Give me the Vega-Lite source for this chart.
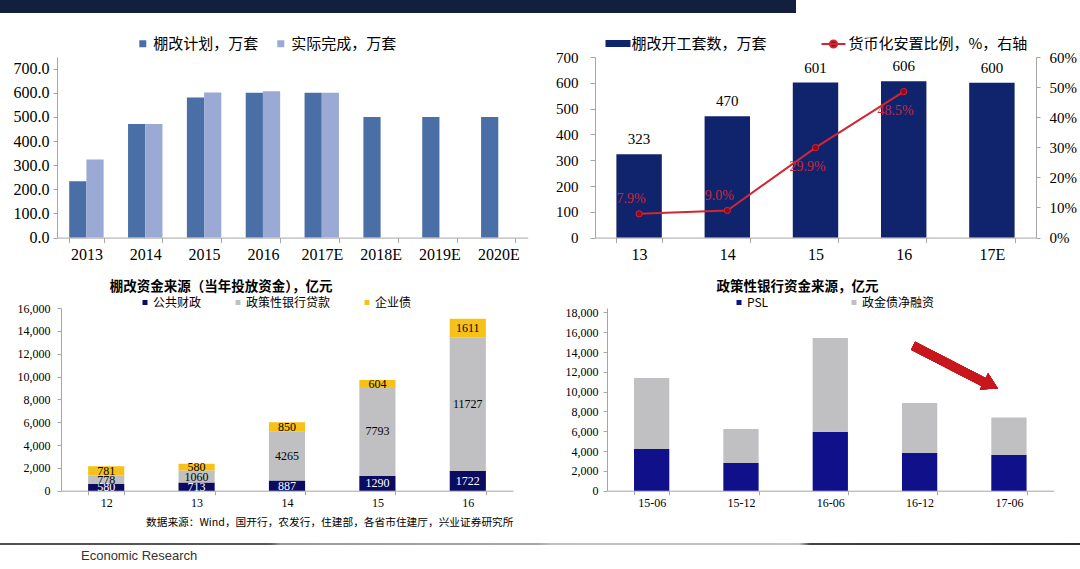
{
  "$schema": "https://vega.github.io/schema/vega-lite/v6.json",
  "padding": 0,
  "background": "white",
  "bounds": "flush",
  "spacing": 0,
  "resolve": {"scale": {"color": "independent", "fill": "independent", "stroke": "independent", "x": "independent", "y": "independent"}, "legend": {"color": "independent", "fill": "independent", "stroke": "independent"}},
  "vconcat": [
    {
      "width": 796, "height": 13,
      "view": {"fill": "#13203d", "stroke": null},
      "data": {"values": [{}]},
      "mark": {"type": "rect", "color": "#13203d"},
      "encoding": {}
    },
    {"width": 1, "height": 43.7, "data": {"values": []}, "mark": "point"},
    {
      "hconcat": [
        {"width": 56.7, "height": 180.6, "data": {"values": []}, "mark": "point"},
        {
          "width": 470.7, "height": 180.6,
          "data": {"values": [
            {"yr": "2013", "g": "棚改计划，万套", "v": 233},
            {"yr": "2013", "g": "实际完成，万套", "v": 323},
            {"yr": "2014", "g": "棚改计划，万套", "v": 470},
            {"yr": "2014", "g": "实际完成，万套", "v": 470},
            {"yr": "2015", "g": "棚改计划，万套", "v": 580},
            {"yr": "2015", "g": "实际完成，万套", "v": 601},
            {"yr": "2016", "g": "棚改计划，万套", "v": 600},
            {"yr": "2016", "g": "实际完成，万套", "v": 606},
            {"yr": "2017E", "g": "棚改计划，万套", "v": 600},
            {"yr": "2017E", "g": "实际完成，万套", "v": 600},
            {"yr": "2018E", "g": "棚改计划，万套", "v": 500},
            {"yr": "2019E", "g": "棚改计划，万套", "v": 500},
            {"yr": "2020E", "g": "棚改计划，万套", "v": 500}
          ]},
          "mark": {"type": "bar"},
          "encoding": {
            "x": {"field": "yr", "type": "nominal", "scale": {"paddingInner": 0.415, "paddingOuter": 0.2075},
                  "axis": {"title": null, "labelAngle": 0, "labelFontSize": 16, "labelPadding": 4, "tickBand": "extent", "tickSize": 5}},
            "xOffset": {"field": "g", "type": "nominal", "scale": {"domain": ["棚改计划，万套", "实际完成，万套"]}},
            "y": {"field": "v", "type": "quantitative", "scale": {"domain": [0, 748], "nice": false},
                  "axis": {"title": null, "values": [0, 100, 200, 300, 400, 500, 600, 700], "format": ".1f", "labelFontSize": 16, "labelPadding": 4, "tickSize": 4, "labelOverlap": false}},
            "color": {"field": "g", "type": "nominal", "scale": {"domain": ["棚改计划，万套", "实际完成，万套"], "range": ["#4a6fa6", "#9aaad4"]},
                      "legend": {"title": null, "orient": "none", "legendX": 78.3, "legendY": -21, "direction": "horizontal", "symbolType": "square", "symbolSize": 49, "symbolStrokeWidth": 0, "labelFontSize": 15, "labelOffset": 3, "columnPadding": 14, "labelLimit": 400}}
          }
        },
        {"width": 66.3, "height": 180.6, "data": {"values": []}, "mark": "point"},
        {
          "width": 441, "height": 180.6,
          "data": {"values": [
            {"c": "13", "n": 323, "r": 0.079},
            {"c": "14", "n": 470, "r": 0.09},
            {"c": "15", "n": 601, "r": 0.299},
            {"c": "16", "n": 606, "r": 0.485},
            {"c": "17E", "n": 600, "r": null}
          ]},
          "encoding": {
            "x": {"field": "c", "type": "nominal", "scale": {"paddingInner": 0.485, "paddingOuter": 0.2425},
                  "axis": {"title": null, "labelAngle": 0, "labelFontSize": 16, "labelPadding": 4, "tickBand": "extent", "tickSize": 5}}
          },
          "layer": [
            {
              "encoding": {
                "y": {"field": "n", "type": "quantitative", "scale": {"domain": [0, 700], "nice": false},
                      "axis": {"title": null, "values": [0, 100, 200, 300, 400, 500, 600, 700], "format": "d", "labelFontSize": 15, "labelPadding": 12, "tickSize": 5, "labelOverlap": false}}
              },
              "layer": [
                {
                  "mark": {"type": "bar"},
                  "encoding": {
                    "fill": {"datum": "棚改开工套数，万套", "type": "nominal", "scale": {"range": ["#10236d"]},
                             "legend": {"title": null, "orient": "none", "legendX": 10.5, "legendY": -26, "direction": "horizontal", "symbolType": "M-1,-0.28H1V0.28H-1Z", "symbolSize": 625, "symbolStrokeWidth": 0, "labelFontSize": 15, "labelOffset": 1, "labelLimit": 400}}
                  }
                },
                {
                  "mark": {"type": "text", "dy": -15, "font": "Liberation Serif", "fontSize": 15, "color": "#000000", "baseline": "middle"},
                  "encoding": {
                    "text": {"field": "n", "type": "quantitative"}
                  }
                }
              ]
            },
            {
              "encoding": {
                "y": {"field": "r", "type": "quantitative", "scale": {"domain": [0, 0.6], "nice": false},
                      "axis": {"title": null, "orient": "right", "values": [0, 0.1, 0.2, 0.3, 0.4, 0.5, 0.6], "format": ".0%", "labelFontSize": 15, "labelPadding": 9, "tickSize": 4, "labelOverlap": false}}
              },
              "layer": [
                {
                  "mark": {"type": "line", "strokeWidth": 2},
                  "encoding": {
                    "stroke": {"datum": "货币化安置比例，%，右轴", "type": "nominal", "scale": {"range": ["#d22632"]},
                               "legend": {"title": null, "orient": "none", "legendX": 225.5, "legendY": -26, "direction": "horizontal", "symbolType": "M-1,0H1M-0.3,0A0.3,0.3,0,1,1,0.3,0A0.3,0.3,0,1,1,-0.3,0", "symbolSize": 576, "symbolStrokeWidth": 2, "labelFontSize": 15, "labelOffset": 2, "labelLimit": 400,
                                          "encode": {"symbols": {"update": {"fill": {"value": "#8c0c1c"}}}}}}
                  }
                },
                {
                  "mark": {"type": "point", "filled": true, "size": 40, "color": "#8c0c1c", "stroke": "#d22632", "strokeWidth": 1, "opacity": 1}
                },
                {
                  "transform": [{"filter": "datum.c === '13' || datum.c === '14'"}],
                  "mark": {"type": "text", "dx": -8, "dy": -15, "font": "Liberation Serif", "fontSize": 14, "color": "#c8283a", "baseline": "middle"},
                  "encoding": {
                    "text": {"field": "r", "type": "quantitative", "format": ".1%"}
                  }
                },
                {
                  "transform": [{"filter": "datum.c === '15' || datum.c === '16'"}],
                  "mark": {"type": "text", "dx": -8, "dy": 19, "font": "Liberation Serif", "fontSize": 14, "color": "#c8283a", "baseline": "middle"},
                  "encoding": {
                    "text": {"field": "r", "type": "quantitative", "format": ".1%"}
                  }
                }
              ]
            }
          ],
          "resolve": {"scale": {"y": "independent"}}
        }
      ],
      "spacing": 0,
      "bounds": "flush",
      "resolve": {"scale": {"color": "independent", "fill": "independent", "stroke": "independent", "x": "independent", "y": "independent"}, "legend": {"color": "independent", "fill": "independent", "stroke": "independent"}}
    },
    {"width": 1, "height": 250.6, "data": {"values": []}, "mark": "point"},
    {
      "hconcat": [
        {"width": 60.7, "height": 182.7, "data": {"values": []}, "mark": "point"},
        {
          "width": 452, "height": 182.7,
          "title": {"text": "棚改资金来源（当年投放资金），亿元", "anchor": "start", "frame": "group", "dx": 48.8, "offset": 3, "fontSize": 13.5, "fontWeight": "bold", "font": "Noto Sans CJK SC", "color": "#000000"},
          "data": {"values": [
            {"y": "12", "s": "公共财政", "v": 580, "o": 1},
            {"y": "12", "s": "政策性银行贷款", "v": 778, "o": 2},
            {"y": "12", "s": "企业债", "v": 781, "o": 3},
            {"y": "13", "s": "公共财政", "v": 713, "o": 1},
            {"y": "13", "s": "政策性银行贷款", "v": 1060, "o": 2},
            {"y": "13", "s": "企业债", "v": 580, "o": 3},
            {"y": "14", "s": "公共财政", "v": 887, "o": 1},
            {"y": "14", "s": "政策性银行贷款", "v": 4265, "o": 2},
            {"y": "14", "s": "企业债", "v": 850, "o": 3},
            {"y": "15", "s": "公共财政", "v": 1290, "o": 1},
            {"y": "15", "s": "政策性银行贷款", "v": 7793, "o": 2},
            {"y": "15", "s": "企业债", "v": 604, "o": 3},
            {"y": "16", "s": "公共财政", "v": 1722, "o": 1},
            {"y": "16", "s": "政策性银行贷款", "v": 11727, "o": 2},
            {"y": "16", "s": "企业债", "v": 1611, "o": 3}
          ]},
          "encoding": {
            "x": {"field": "y", "type": "nominal", "scale": {"paddingInner": 0.6, "paddingOuter": 0.3},
                  "axis": {"title": "数据来源：Wind，国开行，农发行，住建部，各省市住建厅，兴业证券研究所", "titleFont": "Noto Sans CJK SC", "titleFontSize": 10.7, "titleFontWeight": "normal", "titleColor": "#000000", "titleAnchor": "end", "titlePadding": 9,
                           "labelAngle": 0, "labelFontSize": 12, "labelPadding": 3, "tickBand": "extent", "tickSize": 4}},
            "order": {"field": "o", "type": "quantitative"}
          },
          "layer": [
            {
              "mark": {"type": "bar"},
              "encoding": {
                "y": {"field": "v", "type": "quantitative", "stack": "zero", "scale": {"domain": [0, 16000], "nice": false},
                      "axis": {"title": null, "values": [0, 2000, 4000, 6000, 8000, 10000, 12000, 14000, 16000], "format": ",d", "labelFontSize": 12, "labelPadding": 7, "tickSize": 4, "labelOverlap": false}},
                "color": {"field": "s", "type": "nominal", "scale": {"domain": ["公共财政", "政策性银行贷款", "企业债"], "range": ["#0b0b62", "#c0c0c2", "#f6c21a"]},
                          "legend": {"title": null, "orient": "none", "legendX": 78, "legendY": -11.5, "direction": "horizontal", "symbolType": "square", "symbolSize": 25, "symbolStrokeWidth": 0, "labelFontSize": 12, "labelOffset": 2, "columnPadding": 30, "labelLimit": 400}}
              }
            },
            {
              "mark": {"type": "text", "font": "Liberation Serif", "fontSize": 12, "baseline": "middle"},
              "encoding": {
                "y": {"field": "v", "type": "quantitative", "stack": "zero", "bandPosition": 0.5, "scale": {"domain": [0, 16000], "nice": false},
                      "axis": {"title": null, "values": [0, 2000, 4000, 6000, 8000, 10000, 12000, 14000, 16000], "format": ",d", "labelFontSize": 12, "labelPadding": 7, "tickSize": 4, "labelOverlap": false}},
                "detail": {"field": "s", "type": "nominal"},
                "text": {"field": "v", "type": "quantitative"},
                "color": {"condition": {"test": "datum.s === '公共财政'", "value": "#ffffff"}, "value": "#000000"}
              }
            }
          ]
        },
        {"width": 93.3, "height": 182.7, "data": {"values": []}, "mark": "point"},
        {
          "width": 446.6, "height": 182.7,
          "title": {"text": "政策性银行资金来源，亿元", "anchor": "start", "frame": "group", "dx": 109.6, "offset": 3, "fontSize": 13.5, "fontWeight": "bold", "font": "Noto Sans CJK SC", "color": "#000000"},
          "data": {"values": [
            {"p": "15-06", "k": "PSL", "v": 4210, "o": 1},
            {"p": "15-06", "k": "政金债净融资", "v": 7170, "o": 2},
            {"p": "15-12", "k": "PSL", "v": 2800, "o": 1},
            {"p": "15-12", "k": "政金债净融资", "v": 3430, "o": 2},
            {"p": "16-06", "k": "PSL", "v": 5960, "o": 1},
            {"p": "16-06", "k": "政金债净融资", "v": 9460, "o": 2},
            {"p": "16-12", "k": "PSL", "v": 3840, "o": 1},
            {"p": "16-12", "k": "政金债净融资", "v": 5010, "o": 2},
            {"p": "17-06", "k": "PSL", "v": 3600, "o": 1},
            {"p": "17-06", "k": "政金债净融资", "v": 3800, "o": 2}
          ]},
          "encoding": {
            "x": {"field": "p", "type": "nominal", "scale": {"paddingInner": 0.605, "paddingOuter": 0.3025},
                  "axis": {"title": null, "labelAngle": 0, "labelFontSize": 12, "labelPadding": 3, "tickBand": "extent", "tickSize": 4}}
          },
          "layer": [
            {
              "mark": {"type": "bar"},
              "encoding": {
                "y": {"field": "v", "type": "quantitative", "stack": "zero", "scale": {"domain": [0, 18444], "nice": false},
                      "axis": {"title": null, "values": [0, 2000, 4000, 6000, 8000, 10000, 12000, 14000, 16000, 18000], "format": ",d", "labelFontSize": 12, "labelPadding": 5, "tickSize": 4, "labelOverlap": false}},
                "color": {"field": "k", "type": "nominal", "scale": {"domain": ["PSL", "政金债净融资"], "range": ["#10108a", "#c0c0c2"]},
                          "legend": {"title": null, "orient": "none", "legendX": 126, "legendY": -11.5, "direction": "horizontal", "symbolType": "square", "symbolSize": 25, "symbolStrokeWidth": 0, "labelFontSize": 12, "labelOffset": 2, "columnPadding": 79, "labelLimit": 400}},
                "order": {"field": "o", "type": "quantitative"}
              }
            },
            {
              "mark": {"type": "rule", "color": "#c8161d", "strokeWidth": 9, "xOffset": -6.5, "x2Offset": -23},
              "encoding": {
                "x2": {"datum": "17-06"},
                "x": {"datum": "16-12", "type": "nominal"},
                "y": {"datum": 14640, "type": "quantitative", "scale": {"domain": [0, 18444], "nice": false},
                      "axis": {"title": null, "values": [0, 2000, 4000, 6000, 8000, 10000, 12000, 14000, 16000, 18000], "format": ",d", "labelFontSize": 12, "labelPadding": 5, "tickSize": 4, "labelOverlap": false}},
                "y2": {"datum": 10850}
              }
            },
            {
              "mark": {"type": "point", "shape": "triangle-right", "filled": true, "size": 324, "angle": 27, "color": "#c8161d", "opacity": 1, "xOffset": -18},
              "encoding": {
                "x": {"datum": "17-06", "type": "nominal"},
                "y": {"datum": 10680, "type": "quantitative", "scale": {"domain": [0, 18444], "nice": false},
                      "axis": {"title": null, "values": [0, 2000, 4000, 6000, 8000, 10000, 12000, 14000, 16000, 18000], "format": ",d", "labelFontSize": 12, "labelPadding": 5, "tickSize": 4, "labelOverlap": false}}
              }
            }
          ]
        }
      ],
      "spacing": 0,
      "bounds": "flush",
      "resolve": {"scale": {"color": "independent", "fill": "independent", "stroke": "independent", "x": "independent", "y": "independent"}, "legend": {"color": "independent", "fill": "independent", "stroke": "independent"}}
    },
    {"width": 1, "height": 234.7, "data": {"values": []}, "mark": "point"},
    {
      "width": 1080, "height": 2,
      "view": {"fill": "#888888", "stroke": null},
      "title": {"text": "Economic Research", "orient": "bottom", "anchor": "start", "frame": "group", "dx": 81, "offset": 5, "fontSize": 13, "fontWeight": "normal", "font": "Liberation Sans", "color": "#333333"},
      "data": {"values": [{}]},
      "mark": {"type": "rect", "color": {"gradient": "linear", "stops": [
        {"offset": 0, "color": "#505050"},
        {"offset": 0.25, "color": "#5a5a5a"},
        {"offset": 0.26, "color": "#9a9a9a"},
        {"offset": 0.5, "color": "#a8a8a8"},
        {"offset": 0.51, "color": "#c0c0c0"},
        {"offset": 0.74, "color": "#c4c4c4"},
        {"offset": 0.75, "color": "#444444"},
        {"offset": 1, "color": "#2a2a2a"}
      ]}},
      "encoding": {}
    }
  ],
  "config": {
    "view": {"stroke": null},
    "axis": {"grid": false, "labelFont": "Liberation Serif", "labelColor": "#000000", "domainColor": "#a6a6a6", "tickColor": "#a6a6a6"},
    "legend": {"labelFont": "Noto Sans CJK SC", "labelColor": "#000000"},
    "title": {"font": "Noto Sans CJK SC"}
  }
}
